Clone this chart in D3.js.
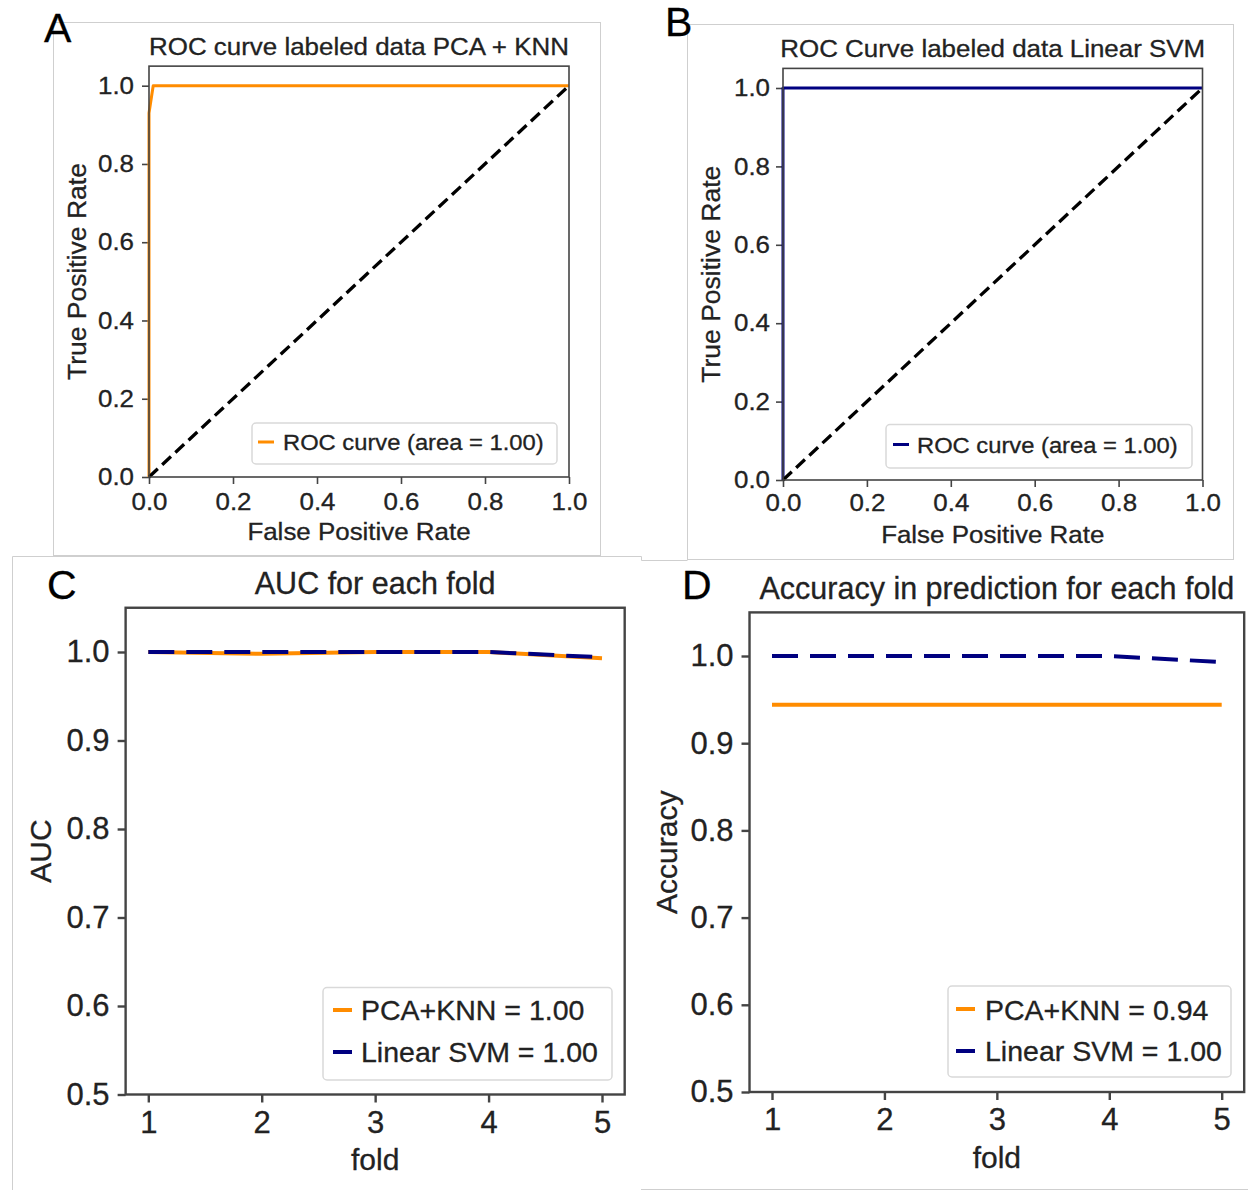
<!DOCTYPE html>
<html>
<head>
<meta charset="utf-8">
<script src="https://cdn.jsdelivr.net/npm/d3@7"></script>
<style>
  html, body { margin: 0; padding: 0; background: #fff; }
  svg { display: block; font-family: "Liberation Sans", Arial, Helvetica, sans-serif; }
  svg text { stroke: #222; stroke-width: 0.3px; }
  .wide-c { transform-box: fill-box; transform-origin: center; transform: scaleX(1.08); }
  .wide-r { transform-box: fill-box; transform-origin: right; transform: scaleX(1.08); }
  .wide-l { transform-box: fill-box; transform-origin: left; transform: scaleX(1.08); }
</style>
</head>
<body>
<svg id="fig" width="1248" height="1190"></svg>
<script>
// ---- data ----
const rocTicks = [0, 0.2, 0.4, 0.6, 0.8, 1.0];
const chanceFpr = [0, 1];
const chanceTpr = [0, 1];
const knnFpr = [0, 0, 0.01, 1];
const knnTpr = [0, 0.93, 1, 1];
const svmFpr = [0, 0, 1];
const svmTpr = [0, 1, 1];

const folds = [1, 2, 3, 4, 5];
const scoreTicks = [0.5, 0.6, 0.7, 0.8, 0.9, 1.0];
const aucKnn = [1.0, 0.998, 1.0, 1.0, 0.993];
const aucSvm = [1.0, 1.0, 1.0, 1.0, 0.994];
const accKnn = [0.944, 0.944, 0.944, 0.944, 0.944];
const accSvm = [1.0, 1.0, 1.0, 1.0, 0.993];

const panelLetters = ["A", "B", "C", "D"];
const titles = [
  "ROC curve labeled data PCA + KNN",
  "ROC Curve labeled data Linear SVM",
  "AUC for each fold",
  "Accuracy in prediction for each fold"
];

const ORANGE = "#ff8c00";
const NAVY = "#000080";
const INK = "#222";

const svg = d3.select("#fig");
const f1 = d3.format(".1f");
const f2 = d3.format(".2f");

// trapezoidal area under a ROC curve
function rocArea(fpr, tpr) {
  let a = 0;
  for (let i = 1; i < fpr.length; i++) a += (fpr[i] - fpr[i - 1]) * (tpr[i] + tpr[i - 1]) / 2;
  return a;
}

// ---- light image frames around each sub-figure ----
const frames = svg.append("g").attr("fill", "none").attr("stroke", "#cfcfcf").attr("stroke-width", 1);
frames.append("rect").attr("x", 53.5).attr("y", 22.5).attr("width", 547).attr("height", 533);
frames.append("rect").attr("x", 687.5).attr("y", 24.5).attr("width", 546).attr("height", 535);
frames.append("path").attr("d", "M12.5,1190V556.5H641.5V560.5H687.5");
frames.append("path").attr("d", "M641,1189.5H1248");

// ---- generic panel ----
function drawPanel(p) {
  const g = svg.append("g");
  const x = d3.scaleLinear().domain(p.xVals).range(p.xPix);
  const y = d3.scaleLinear().domain(p.yVals).range(p.yPix);
  const L = x(p.xLim[0]), R = x(p.xLim[1]), B = y(p.yLim[0]), T = y(p.yLim[1]);

  const xa = g.append("g").attr("transform", `translate(0,${B})`)
    .call(d3.axisBottom(x).tickValues(p.xTicks).tickFormat(p.xFmt)
      .tickSize(p.tickLen).tickPadding(p.xPad));
  const ya = g.append("g").attr("transform", `translate(${L},0)`)
    .call(d3.axisLeft(y).tickValues(p.yTicks).tickFormat(p.yFmt)
      .tickSize(p.tickLen).tickPadding(p.yPad));
  [xa, ya].forEach(a => {
    a.select(".domain").remove();
    a.selectAll(".tick line").attr("stroke", "#444").attr("stroke-width", p.spineW);
    a.selectAll(".tick text").attr("fill", INK).style("font-size", p.tickFont + "px")
      .style("font-family", "'Liberation Sans', Arial, sans-serif");
  });
  if (p.wide) {
    xa.selectAll(".tick text").classed("wide-c", true);
    ya.selectAll(".tick text").classed("wide-r", true);
  }

  // series
  const line = d3.line().x(d => x(d[0])).y(d => y(d[1]));
  p.series.forEach(s => {
    g.append("path").datum(d3.zip(s.xs, s.ys)).attr("d", line)
      .attr("fill", "none").attr("stroke", s.color).attr("stroke-width", s.width)
      .attr("stroke-dasharray", s.dash || null).attr("stroke-linejoin", "round");
  });

  // axes frame
  g.append("rect").attr("x", L).attr("y", T).attr("width", R - L).attr("height", B - T)
    .attr("fill", "none").attr("stroke", "#444").attr("stroke-width", p.spineW);

  // title & labels
  g.append("text").attr("x", (L + R) / 2).attr("y", p.titleY).attr("text-anchor", "middle")
    .attr("fill", INK).style("font-size", p.titleFont + "px").text(p.title)
    .classed("wide-c", !!p.wide);
  g.append("text").attr("x", (L + R) / 2).attr("y", p.xLabelY).attr("text-anchor", "middle")
    .attr("fill", INK).style("font-size", p.labelFont + "px").text(p.xLabel)
    .classed("wide-c", !!p.wide);
  g.append("text").attr("transform", `translate(${p.yLabelX},${(T + B) / 2}) rotate(-90)`)
    .attr("text-anchor", "middle").attr("fill", INK)
    .style("font-size", (p.yLabelFont || p.labelFont) + "px")
    .text(p.yLabel);

  // legend
  const lg = p.legend;
  g.append("rect").attr("x", lg.box[0]).attr("y", lg.box[1])
    .attr("width", lg.box[2] - lg.box[0]).attr("height", lg.box[3] - lg.box[1])
    .attr("rx", 4).attr("fill", "#fff").attr("fill-opacity", 0.85)
    .attr("stroke", "#d9d9d9").attr("stroke-width", 1.5);
  lg.items.forEach((it, i) => {
    const cy = lg.rowY[i];
    g.append("line").attr("x1", lg.sample[0]).attr("x2", lg.sample[1])
      .attr("y1", cy).attr("y2", cy).attr("stroke", it.color).attr("stroke-width", it.width);
    g.append("text").attr("x", lg.textX).attr("y", lg.baseY[i]).attr("fill", INK)
      .style("font-size", lg.font + "px").text(it.label).classed("wide-l", !!p.wide);
  });

  // panel letter
  svg.append("text").attr("x", p.letterPos[0]).attr("y", p.letterPos[1]).attr("fill", "#000")
    .style("stroke", "#000").style("font-size", "41px").text(p.letter);
}

// ---- A: ROC PCA + KNN ----
drawPanel({
  letter: panelLetters[0], letterPos: [44, 41.5],
  title: titles[0], titleY: 55, titleFont: 24,
  xVals: [0, 1], xPix: [149, 569], yVals: [0, 1], yPix: [477, 85.7],
  xLim: [0, 1], yLim: [0, 1.05],
  xTicks: rocTicks, yTicks: rocTicks, xFmt: f1, yFmt: f1,
  tickLen: 7, xPad: 9, yPad: 8, tickFont: 24, spineW: 1.6, wide: true,
  xLabel: "False Positive Rate", xLabelY: 540, yLabel: "True Positive Rate", yLabelX: 86,
  labelFont: 24, yLabelFont: 26.5,
  series: [
    { xs: knnFpr, ys: knnTpr, color: ORANGE, width: 3 },
    { xs: chanceFpr, ys: chanceTpr, color: "#000", width: 3.3, dash: "12,6" }
  ],
  legend: {
    box: [252, 423, 557, 464], sample: [258, 274], textX: 283, font: 22,
    rowY: [442], baseY: [450.5],
    items: [{ label: `ROC curve (area = ${f2(rocArea(knnFpr, knnTpr))})`, color: ORANGE, width: 3 }]
  }
});

// ---- B: ROC Linear SVM ----
drawPanel({
  letter: panelLetters[1], letterPos: [665, 36],
  title: titles[1], titleY: 57, titleFont: 24,
  xVals: [0, 1], xPix: [783, 1202.5], yVals: [0, 1], yPix: [480, 88],
  xLim: [0, 1], yLim: [0, 1.05],
  xTicks: rocTicks, yTicks: rocTicks, xFmt: f1, yFmt: f1,
  tickLen: 7, xPad: 7, yPad: 6, tickFont: 24, spineW: 1.6, wide: true,
  xLabel: "False Positive Rate", xLabelY: 543.5, yLabel: "True Positive Rate", yLabelX: 720,
  labelFont: 24, yLabelFont: 26.5,
  series: [
    { xs: svmFpr, ys: svmTpr, color: NAVY, width: 3 },
    { xs: chanceFpr, ys: chanceTpr, color: "#000", width: 3.3, dash: "12,6" }
  ],
  legend: {
    box: [886, 424.5, 1192, 468], sample: [893, 909], textX: 917, font: 22,
    rowY: [444.5], baseY: [453.5],
    items: [{ label: `ROC curve (area = ${f2(rocArea(svmFpr, svmTpr))})`, color: NAVY, width: 3 }]
  }
});

// ---- C: AUC per fold ----
drawPanel({
  letter: panelLetters[2], letterPos: [47, 599],
  title: titles[2], titleY: 594, titleFont: 30.5,
  xVals: [1, 5], xPix: [148.3, 602], yVals: [0.5, 1.0], yPix: [1094.5, 652],
  xLim: [0.8, 5.2], yLim: [0.5, 1.05],
  xTicks: folds, yTicks: scoreTicks, xFmt: d3.format("d"), yFmt: f1,
  tickLen: 8, xPad: 8, yPad: 8, tickFont: 31, spineW: 2.4,
  xLabel: "fold", xLabelY: 1170, yLabel: "AUC", yLabelX: 51, labelFont: 30,
  series: [
    { xs: folds, ys: aucKnn, color: ORANGE, width: 4 },
    { xs: folds, ys: aucSvm, color: NAVY, width: 4, dash: "26,12" }
  ],
  legend: {
    box: [323, 987.5, 612, 1080], sample: [333, 352], textX: 361, font: 28.5,
    rowY: [1010, 1052], baseY: [1019.5, 1062],
    items: [
      { label: `PCA+KNN = ${f2(d3.mean(aucKnn))}`, color: ORANGE, width: 4 },
      { label: `Linear SVM = ${f2(d3.mean(aucSvm))}`, color: NAVY, width: 4 }
    ]
  }
});

// ---- D: accuracy per fold ----
drawPanel({
  letter: panelLetters[3], letterPos: [682, 599],
  title: titles[3], titleY: 599, titleFont: 30.5,
  xVals: [1, 5], xPix: [772, 1221.7], yVals: [0.5, 1.0], yPix: [1092, 656],
  xLim: [0.8, 5.2], yLim: [0.5, 1.05],
  xTicks: folds, yTicks: scoreTicks, xFmt: d3.format("d"), yFmt: f1,
  tickLen: 8, xPad: 8, yPad: 8, tickFont: 31, spineW: 2.4,
  xLabel: "fold", xLabelY: 1168, yLabel: "Accuracy", yLabelX: 677, labelFont: 30,
  series: [
    { xs: folds, ys: accKnn, color: ORANGE, width: 4 },
    { xs: folds, ys: accSvm, color: NAVY, width: 4, dash: "26,12" }
  ],
  legend: {
    box: [948, 986, 1231, 1077], sample: [956, 975], textX: 985, font: 28.5,
    rowY: [1009, 1051], baseY: [1019.5, 1061],
    items: [
      { label: `PCA+KNN = ${f2(d3.mean(accKnn))}`, color: ORANGE, width: 4 },
      { label: `Linear SVM = ${f2(d3.mean(accSvm))}`, color: NAVY, width: 4 }
    ]
  }
});
</script>
</body>
</html>
